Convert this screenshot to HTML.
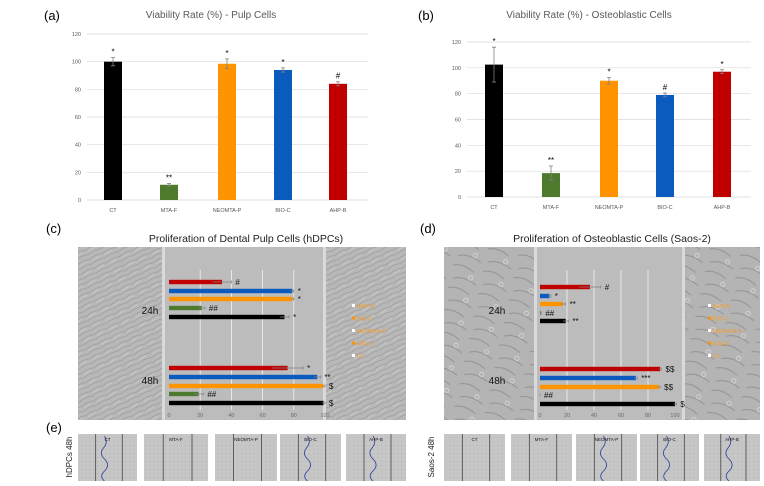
<!DOCTYPE html>
<html><head><meta charset="utf-8"><style>
html,body{margin:0;padding:0;background:#fff;}
body{width:764px;height:481px;overflow:hidden;font-family:"Liberation Sans",sans-serif;}
svg text{font-family:"Liberation Sans",sans-serif;}
</style></head><body>
<svg id="fig" width="764" height="481" viewBox="0 0 764 481" xmlns="http://www.w3.org/2000/svg">
<defs>
<pattern id="cellsA" width="14" height="10" patternUnits="userSpaceOnUse" patternTransform="rotate(-25)">
<rect width="14" height="10" fill="#b8b8b8"/>
<path d="M0 3 Q7 1 14 3 M0 8 Q7 6 14 8" stroke="#9c9c9c" stroke-width="0.8" fill="none"/>
<path d="M2 5 L10 4" stroke="#d4d4d4" stroke-width="0.6"/>
</pattern>
<pattern id="cellsB" width="31" height="23" patternUnits="userSpaceOnUse" patternTransform="rotate(12)">
<rect width="31" height="23" fill="#b4b4b4"/>
<path d="M2 4 Q12 0 24 7 M5 17 Q15 12 29 19" stroke="#939393" stroke-width="1" fill="none"/>
<circle cx="22" cy="13" r="2.2" fill="none" stroke="#d8d8d8" stroke-width="0.8"/>
</pattern>
<pattern id="thumb" width="4" height="4" patternUnits="userSpaceOnUse">
<rect width="4" height="4" fill="#c6c6c6"/><rect x="1" y="1" width="1" height="1" fill="#b4b4b4"/>
</pattern>
</defs>
<g id="layer"></g>
</svg>
<script>
// ---- Panel (a) data
const catA = ["CT","MTA-F","NEOMTA-P","BIO-C","AHP-B"];
const valA = [100, 11, 98.5, 94, 84];
const errA = [3, 1, 3.5, 1.5, 1.5];
const sigA = ["*","**","*","*","#"];
// ---- Panel (b) data
const valB = [102.5, 18.5, 90, 79, 97];
const errB = [13.5, 5.5, 2.5, 1.5, 1.5];
const sigB = ["*","**","*","#","*"];
const yTicks = [0,20,40,60,80,100,120];
const barColors = ["#000000","#4e7a2d","#ff9400","#0b5bbf","#c00000"];
// ---- Panel (c) data (order top→bottom: AHP-B, BIO-C, NEOMTA-P, MTA-F, CT)
const hCats = ["AHP-B","BIO-C","NEOMTA-P","MTA-F","CT"];
const hColors = ["#c00000","#0b5bbf","#ff9400","#4e7a2d","#000000"];
const c24 = [34, 79, 79, 21, 74];
const c24err = [6, 1, 1, 2, 3];
const c24sig = ["#","*","*","##","*"];
const c48 = [76, 95, 99, 19, 99];
const c48err = [10, 2, 1, 3, 1];
const c48sig = ["*","**","$","##","$"];
// ---- Panel (d) data
const d24 = [37, 7, 17, 0.5, 19];
const d24err = [8, 1, 2, 0.5, 2];
const d24sig = ["#","*","**","##","**"];
const d48 = [89, 71, 88, 0, 100];
const d48err = [1, 1, 1, 0, 1];
const d48sig = ["$$","***","$$","##","$"];
const xTicks = [0,20,40,60,80,100];

const NS="http://www.w3.org/2000/svg";
const L=document.getElementById('layer');
function mk(tag,attrs,parent){const e=document.createElementNS(NS,tag);for(const k in attrs)e.setAttribute(k,attrs[k]);(parent||L).appendChild(e);return e;}
function txt(x,y,s,size,fill,anchor,parent){const t=mk('text',{x:x,y:y,'font-size':size,fill:fill,'text-anchor':anchor||'middle'},parent);t.textContent=s;return t;}

function vchart(name,x0,x1,y0,y120,centers,vals,errs,sigs,title,tx,label,lx){
  const g=mk('g',{});
  
  
  const ys=v=>y0-(v/120)*(y0-y120);
  const tt=txt(tx,18,title,10,'#595959','middle',g);
  
  
  const pl=txt(lx,20,label,13,'#000','start',g);
  
  
  yTicks.forEach(v=>{
    const ln=mk('line',{x1:x0,x2:x1,y1:ys(v),y2:ys(v),stroke:'#d9d9d9','stroke-width':0.7},g);
    
    
    const t=txt(x0-6,ys(v)+2,String(v),5.5,'#595959','end',g);
    
    
  });
  vals.forEach((v,i)=>{
    const cx=centers[i];
    const r=mk('rect',{x:cx-9,y:ys(v),width:18,height:y0-ys(v),fill:barColors[i]},g);
    
    
    const e=mk('path',{d:`M${cx} ${ys(v+errs[i])}V${ys(v-errs[i])}M${cx-2} ${ys(v+errs[i])}h4M${cx-2} ${ys(v-errs[i])}h4`,stroke:'#7f7f7f','stroke-width':0.8,fill:'none'},g);
    
    
    const s=txt(cx,ys(v+errs[i])-3,sigs[i],8,'#000','middle',g);
    
    
    const c=txt(cx,y0+12,catA[i],5.5,'#595959','middle',g);
    
    
  });
}
vchart('viability-chart-pulp',87,368,200,34,[113,169,227,283,338],valA,errA,sigA,'Viability Rate (%) - Pulp Cells',211,'(a)',44);
vchart('viability-chart-osteoblastic',467,751,197,42,[494,551,609,665,722],valB,errB,sigB,'Viability Rate (%) - Osteoblastic Cells',589,'(b)',418);

function hpanel(name,ix0,ix1,gx0,gx1,pat,ax0,ax100,y24,y48,v24,e24,s24,v48,e48,s48,title,tx,label,lx,hx,legx){
  const g=mk('g',{});
  
  
  const pl=txt(lx,233,label,13,'#000','start',g);
  
  
  const tt=txt(tx,242,title,10.5,'#222','middle',g);
  
  
  const bg=mk('rect',{x:ix0,y:247,width:ix1-ix0,height:173,fill:`url(#${pat})`},g);
  
  
  const gap=mk('rect',{x:gx0,y:247,width:gx1-gx0,height:173,fill:'#bcbcbc'},g);
  
  
  mk('rect',{x:gx0-3,y:247,width:3,height:173,fill:'#dadada'},g);
  mk('rect',{x:gx1,y:247,width:3,height:173,fill:'#dadada'},g);
  const xs=v=>ax0+v/100*(ax100-ax0);
  xTicks.forEach(v=>{
    if(v>0&&v<100){const ln=mk('line',{x1:xs(v),x2:xs(v),y1:270,y2:410,stroke:'#f2f2f2','stroke-width':0.8},g);
    
    }
    const t=txt(xs(v),417,String(v),5.5,'#6a6a6a','middle',g);
    
    
  });
  [[y24,v24,e24,s24],[y48,v48,e48,s48]].forEach(([ys,vs,es,ss],k)=>{
    vs.forEach((v,i)=>{
      const r=mk('rect',{x:ax0,y:ys[i]-2.2,width:xs(v)-ax0,height:4.4,fill:hColors[i]},g);
      
      
      const xe=xs(v+es[i]);
      const e=mk('path',{d:`M${xs(v-es[i])} ${ys[i]}H${xe}M${xe} ${ys[i]-1.5}v3`,stroke:'#7f7f7f','stroke-width':0.7,fill:'none'},g);
      
      
      const s=txt(xe+4,ys[i]+3,ss[i],8,'#111','start',g);
      
      
    });
  });
  const h1=txt(hx,314,'24h',10,'#111','middle',g);
  
  
  const h2=txt(hx,384,'48h',10,'#111','middle',g);
  
  
  ["AHP-B","BIO-C","NEOMTA-P","MTA-F","CT"].forEach((s,i)=>{
    const sq=mk('rect',{x:legx,y:304+i*12.5,width:3,height:3,fill:i%2?'#ff9400':'#fff'},g);
    
    
    const t=txt(legx+5,308+i*12.5,s,5.5,'#ff9a20','start',g);
    
    
  });
}
hpanel('proliferation-chart-hdpc',78,406,165,323,'cellsA',169,325,[282,291,299,308,317],[368,377,386,394,403],c24,c24err,c24sig,c48,c48err,c48sig,'Proliferation of Dental Pulp Cells (hDPCs)',246,'(c)',46,150,352);
hpanel('proliferation-chart-saos2',444,760,537,682,'cellsB',540,675,[287,296,304,313,321],[369,378,387,395,404],d24,d24err,d24sig,d48,d48err,d48sig,'Proliferation of Osteoblastic Cells (Saos-2)',612,'(d)',420,497,708);

// ---- Panel (e) thumbnails
const thumbNames = ["CT","MTA-F","NEOMTA-P","BIO-C","AHP-B"];
const el=txt(46,432,'(e)',13,'#000','start');


function thumbs(xs,ws,rowLabel,lx,wavy){
  const rl=txt(0,0,rowLabel,8,'#222','middle');
  rl.setAttribute('transform',`translate(${lx},457) rotate(-90)`);
  
  
  xs.forEach((x,i)=>{
    const w=ws[i];
    const g=mk('g',{});
    
    
    mk('rect',{x:x,y:434,width:w,height:47,fill:'url(#thumb)'},g);
    mk('line',{x1:x+w*0.3,x2:x+w*0.3,y1:434,y2:481,stroke:'#333','stroke-width':0.7},g);
    mk('line',{x1:x+w*0.75,x2:x+w*0.75,y1:434,y2:481,stroke:'#333','stroke-width':0.7},g);
    if(wavy[i]){const cx=x+w*0.5;mk('path',{d:`M${cx-3} 436 q4 6 -1 12 q-5 6 2 12 q5 6 -2 12 q-4 5 1 9`,stroke:'#2a3f9a','stroke-width':0.8,fill:'none'},g);}
    txt(x+w*0.5,441,thumbNames[i],4.5,'#111','middle',g);
  });
}
thumbs([78,144,215,280,346],[59,64,62,61,60],'hDPCs 48h',72,[1,0,0,1,1]);
thumbs([444,511,576,640,704],[61,61,61,59,56],'Saos-2 48h',434,[0,0,1,1,1]);
</script>
</body></html>
